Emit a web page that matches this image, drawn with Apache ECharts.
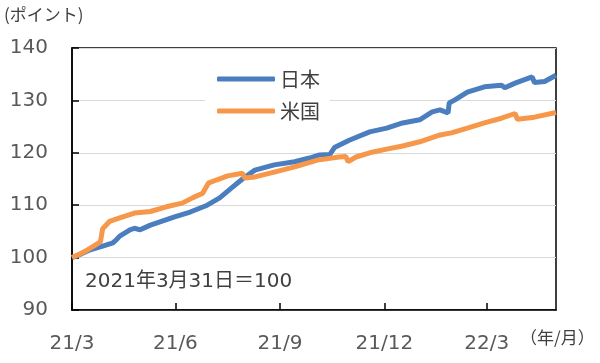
<!DOCTYPE html>
<html><head><meta charset="utf-8">
<script src="https://cdn.jsdelivr.net/npm/echarts@6/dist/echarts.min.js"></script>
<style>html,body{margin:0;padding:0;background:#fff}#c{width:600px;height:363px}</style>
</head><body><div id="c"></div>
<script>
const seriesNames = ['日本', '米国'];
const japanDates = ['2021-03-31','2021-04-07','2021-04-16','2021-04-27','2021-05-06','2021-05-09','2021-05-12','2021-05-21','2021-05-25','2021-05-30','2021-06-08','2021-06-19','2021-06-30','2021-07-13','2021-07-28','2021-08-08','2021-08-19','2021-08-28','2021-09-08','2021-09-25','2021-10-13','2021-10-26','2021-11-04','2021-11-13','2021-11-17','2021-11-30','2021-12-18','2022-01-02','2022-01-16','2022-01-31','2022-02-11','2022-02-18','2022-02-25','2022-02-26','2022-03-03','2022-03-14','2022-03-29','2022-04-13','2022-04-16','2022-04-25','2022-05-10','2022-05-12','2022-05-21','2022-05-31'];
const japanValues = [100,100.6,101.5,102.2,102.8,103.4,104.1,105.3,105.6,105.3,106.2,107.0,107.8,108.7,110.0,111.4,113.4,115.0,116.7,117.7,118.3,119.0,119.6,119.7,121.0,122.4,124.0,124.7,125.7,126.3,127.8,128.2,127.6,129.5,130.1,131.6,132.6,132.9,132.4,133.3,134.5,133.4,133.6,134.8];
const usDates = ['2021-03-31','2021-04-07','2021-04-14','2021-04-25','2021-04-27','2021-05-03','2021-05-12','2021-05-25','2021-06-08','2021-06-22','2021-07-06','2021-07-15','2021-07-24','2021-07-29','2021-08-05','2021-08-15','2021-08-28','2021-08-30','2021-09-08','2021-09-25','2021-10-13','2021-10-19','2021-11-02','2021-11-21','2021-11-27','2021-11-29','2021-12-06','2021-12-18','2022-01-02','2022-01-16','2022-01-31','2022-02-18','2022-02-28','2022-03-14','2022-03-29','2022-04-13','2022-04-25','2022-04-27','2022-05-12','2022-05-31'];
const usValues = [100,100.7,101.5,103.0,105.5,106.9,107.6,108.5,108.8,109.7,110.4,111.4,112.3,114.2,114.8,115.6,116.1,115.2,115.4,116.3,117.3,117.7,118.6,119.2,119.3,118.3,119.2,120.0,120.7,121.3,122.1,123.4,123.8,124.7,125.7,126.6,127.5,126.4,126.8,127.7];
const xTickDates = ['2021-03-31','2021-06-30','2021-09-30','2021-12-31','2022-03-31'];
const xTickLabels = ['21/3','21/6','21/9','21/12','22/3'];
const xStart = '2021-03-31', xEnd = '2022-05-31';
const yTicks = [90,100,110,120,130,140];

const DAY = 86400000;
const toUtc = s => { const p = s.split('-').map(Number); return Date.UTC(p[0], p[1]-1, p[2]); };
const dayOf = s => Math.round((toUtc(s) - toUtc(xStart)) / DAY);
const tickDays = xTickDates.map(dayOf);
const font = "'DejaVu Sans', 'Noto Sans CJK JP', sans-serif";
const cjk = "'Noto Sans CJK JP', sans-serif";
const chart = echarts.init(document.getElementById('c'));
chart.setOption({
  animation: false,
  textStyle: { fontFamily: font },
  grid: { left: 72, right: 44, top: 48, bottom: 53, show: true, borderColor: '#000', borderWidth: 1.5, backgroundColor: 'transparent' },
  legend: {
    data: seriesNames, orient: 'vertical', left: 205, top: 65,
    itemWidth: 58, itemHeight: 5, itemGap: 12, icon: 'roundRect',
    backgroundColor: '#fff', padding: [4, 10, 4, 12],
    textStyle: { fontSize: 20, color: '#404040', fontFamily: cjk }
  },
  xAxis: {
    type: 'value', min: 0, max: dayOf(xEnd),
    axisLine: { lineStyle: { color: '#000', width: 1.5 } },
    axisTick: { inside: true, length: 7, lineStyle: { color: '#000', width: 1.5 }, customValues: tickDays },
    axisLabel: { customValues: tickDays, fontSize: 20, color: '#595959', margin: 24, fontFamily: font,
      formatter: v => { const i = tickDays.indexOf(Math.round(v)); return i >= 0 ? xTickLabels[i] : ''; } },
    splitLine: { show: false }
  },
  yAxis: {
    type: 'value', min: yTicks[0], max: yTicks[yTicks.length-1], interval: 10,
    axisLine: { show: true, lineStyle: { color: '#000', width: 1.5 } },
    axisTick: { show: true, inside: true, length: 7, lineStyle: { color: '#000', width: 1.5 } },
    axisLabel: { fontSize: 20, color: '#595959', margin: 24, fontFamily: font },
    splitLine: { lineStyle: { color: '#d9d9d9', width: 1.2 } }
  },
  graphic: [
    { type: 'text', left: 4, top: 6, style: { text: '(ポイント)', fontSize: 17, fill: '#404040', fontFamily: cjk } },
    { type: 'text', left: 520, top: 329, style: { text: '（年/月）', fontSize: 17, fill: '#404040', fontFamily: cjk } },
    { type: 'text', left: 85, top: 272, style: { text: '2021年3月31日＝100', fontSize: 20, fill: '#404040', fontFamily: font } }
  ],
  series: [
    { name: seriesNames[0], type: 'line', showSymbol: false, symbol: 'none', color: '#4a7ebf',
      lineStyle: { width: 5, color: '#4a7ebf' }, data: japanDates.map((d, i) => [dayOf(d), japanValues[i]]) },
    { name: seriesNames[1], type: 'line', showSymbol: false, symbol: 'none', color: '#f7974a',
      lineStyle: { width: 5, color: '#f7974a' }, data: usDates.map((d, i) => [dayOf(d), usValues[i]]) }
  ]
});
</script></body></html>
